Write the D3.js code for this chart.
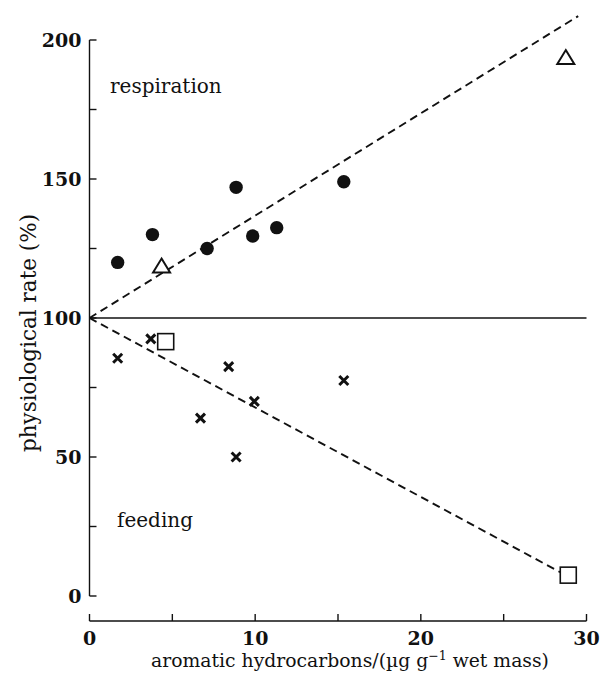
<!DOCTYPE html>
<html>
<head>
<meta charset="utf-8">
<script src="https://cdn.jsdelivr.net/npm/d3@7"></script>
<style>
  html, body { margin: 0; padding: 0; background: #fff; }
  svg text { font-family: "DejaVu Serif", "Liberation Serif", serif; fill: #111; }
</style>
</head>
<body>
<svg id="chart" width="600" height="678"></svg>
<script>
// Respiration (filled circles) and feeding (crosses) rates, % of control
const respX = [1.7, 3.8, 7.1, 8.85, 9.85, 11.3, 15.35];
const respY = [120, 130, 125, 147, 129.5, 132.5, 149];
const feedX = [1.7, 3.7, 6.7, 8.4, 8.85, 9.95, 15.35];
const feedY = [85.5, 92.5, 64, 82.5, 50, 70, 77.5];
// Additional respiration (triangles) and feeding (squares) measurements
const triX = [4.35, 28.75];
const triY = [118.5, 193.5];
const sqX = [4.6, 28.9];
const sqY = [91.5, 7.5];
// Fitted trend lines, through 100 % at zero concentration
const respFitX = [0, 29.5];
const respFitY = [100, 208.6];
const feedFitX = [0, 28.4];
const feedFitY = [100, 8.6];
const controlLevel = 100;

const xTicks = [0, 10, 20, 30];
const xMinor = [5, 15, 25];
const yTicks = [0, 50, 100, 150, 200];
const yMinor = [25, 75, 125, 175];

const svg = d3.select("#chart");
const x = d3.scaleLinear().domain([0, 30]).range([89.5, 586.5]);
const y = d3.scaleLinear().domain([0, 200]).range([596, 40]);

const ink = "#111";

// y axis (ticks pointing inward)
const yAxis = svg.append("g").attr("transform", `translate(${x(0)},0)`);
yAxis.append("line").attr("x1", 0).attr("x2", 0)
  .attr("y1", y(0)).attr("y2", y(200)).attr("stroke", ink).attr("stroke-width", 1.4);
yAxis.selectAll("line.tick").data(yTicks.concat(yMinor)).join("line")
  .attr("class", "tick").attr("x1", 0).attr("x2", 7)
  .attr("y1", d => y(d)).attr("y2", d => y(d)).attr("stroke", ink).attr("stroke-width", 1.4);
yAxis.selectAll("text").data(yTicks).join("text")
  .attr("x", -8).attr("y", d => y(d)).attr("dy", "0.36em")
  .attr("text-anchor", "end").attr("font-size", 19).attr("font-weight", "bold")
  .text(d => d);

// x axis, detached below the plot
const axisY = 621;
const xAxis = svg.append("g").attr("transform", `translate(0,${axisY})`);
xAxis.append("line").attr("x1", x(0)).attr("x2", x(30))
  .attr("y1", 0).attr("y2", 0).attr("stroke", ink).attr("stroke-width", 1.4);
xAxis.selectAll("line.tick").data(xTicks.concat(xMinor)).join("line")
  .attr("class", "tick").attr("x1", d => x(d)).attr("x2", d => x(d))
  .attr("y1", 0).attr("y2", -7).attr("stroke", ink).attr("stroke-width", 1.4);
xAxis.selectAll("text").data(xTicks).join("text")
  .attr("x", d => x(d)).attr("y", 24)
  .attr("text-anchor", "middle").attr("font-size", 19).attr("font-weight", "bold")
  .text(d => d);

// axis titles
svg.append("text").attr("x", 350).attr("y", 667).attr("text-anchor", "middle")
  .attr("font-size", 18.8)
  .html('aromatic hydrocarbons/(µg g<tspan dy="-7" font-size="12.5">−1</tspan><tspan dy="7"> wet mass)</tspan>');
svg.append("text").attr("transform", "translate(36,333) rotate(-90)")
  .attr("text-anchor", "middle").attr("font-size", 21.5)
  .text("physiological rate (%)");

// control level
svg.append("line").attr("x1", x(0)).attr("x2", x(30))
  .attr("y1", y(controlLevel)).attr("y2", y(controlLevel))
  .attr("stroke", ink).attr("stroke-width", 1.3);

// dashed fits
const line = d3.line().x(d => x(d[0])).y(d => y(d[1]));
[[respFitX, respFitY], [feedFitX, feedFitY]].forEach(([xs, ys]) => {
  svg.append("path").datum(d3.zip(xs, ys)).attr("d", line)
    .attr("fill", "none").attr("stroke", ink).attr("stroke-width", 1.9)
    .attr("stroke-dasharray", "8,5");
});

// series labels
svg.append("text").attr("x", 110).attr("y", 93).attr("font-size", 20).text("respiration");
svg.append("text").attr("x", 117).attr("y", 527).attr("font-size", 20).text("feeding");

// filled circles
svg.selectAll("circle.resp").data(d3.zip(respX, respY)).join("circle")
  .attr("class", "resp").attr("cx", d => x(d[0])).attr("cy", d => y(d[1]))
  .attr("r", 6.7).attr("fill", ink);

// crosses
const cs = 4.5;
const crosses = svg.selectAll("g.feed").data(d3.zip(feedX, feedY)).join("g")
  .attr("class", "feed").attr("transform", d => `translate(${x(d[0])},${y(d[1])})`);
crosses.append("path").attr("d", `M${-cs},${-cs}L${cs},${cs}M${-cs},${cs}L${cs},${-cs}`)
  .attr("stroke", ink).attr("stroke-width", 3).attr("fill", "none");

// open triangles
const tw = 8.5;
svg.selectAll("path.tri").data(d3.zip(triX, triY)).join("path")
  .attr("class", "tri")
  .attr("transform", d => `translate(${x(d[0])},${y(d[1])})`)
  .attr("d", `M0,${-8}L${tw},${6}L${-tw},${6}Z`)
  .attr("fill", "#fff").attr("stroke", ink).attr("stroke-width", 2);

// open squares
const sq = 8;
svg.selectAll("rect.sq").data(d3.zip(sqX, sqY)).join("rect")
  .attr("class", "sq")
  .attr("x", d => x(d[0]) - sq).attr("y", d => y(d[1]) - sq)
  .attr("width", 2 * sq).attr("height", 2 * sq)
  .attr("fill", "#fff").attr("stroke", ink).attr("stroke-width", 1.6);
</script>
</body>
</html>
